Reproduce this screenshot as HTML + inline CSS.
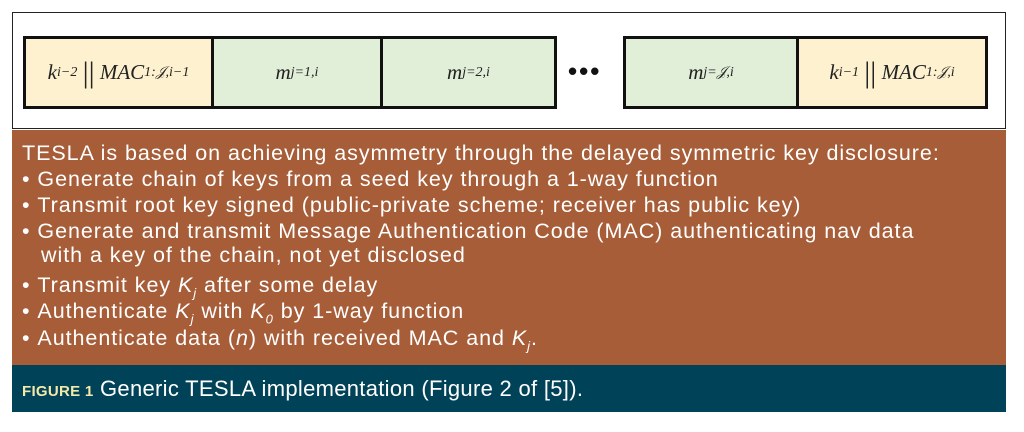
<!DOCTYPE html>
<html><head><style>
body{margin:0;width:1024px;height:432px;background:#fff;position:relative;overflow:hidden;font-family:"Liberation Sans",sans-serif}
.outer{position:absolute;left:12px;top:12px;width:992px;height:115px;border:1.5px solid #222;background:#fff}
.b{position:absolute;top:36px;height:67px;border:3px solid #111;box-sizing:content-box;font-family:"Liberation Serif",serif;font-style:italic;font-size:21px;color:#222;display:flex;align-items:center;justify-content:center}
.y{background:#fef1cf}.g{background:#e1efd9}
.b sub{font-size:14px;vertical-align:-5px}
.brown{position:absolute;left:12px;top:130px;width:994px;height:235px;background:#a65d38;color:#fff;font-size:21.5px;letter-spacing:0.95px;line-height:26px}
.brown div{position:absolute;left:10px;white-space:nowrap}
.brown sub{font-size:13px;line-height:0}
.navy{position:absolute;left:12px;top:365px;width:994px;height:47px;background:#004257;color:#fff;font-size:22px;letter-spacing:0.3px;line-height:47px}
</style></head><body>
<div class="outer"></div>
<div class="b y" style="left:23px;width:185px">k<sub>i−2</sub>&nbsp;<span style="font-style:normal;font-size:30px">||</span>&nbsp;MAC<sub>1:𝒥,i−1</sub></div>
<div class="b g" style="left:211px;width:166px">m<sub>j=1,i</sub></div>
<div class="b g" style="left:380px;width:171px">m<sub>j=2,i</sub></div>
<div style="position:absolute;left:568px;top:56px;font-size:26px;color:#111;font-weight:bold;letter-spacing:2px">•••</div>
<div class="b g" style="left:623px;width:170px">m<sub>j=𝒥,i</sub></div>
<div class="b y" style="left:796px;width:186px">k<sub>i−1</sub>&nbsp;<span style="font-style:normal;font-size:30px">||</span>&nbsp;MAC<sub>1:𝒥,i</sub></div>
<div class="brown">
<div style="top:10px">TESLA is based on achieving asymmetry through the delayed symmetric key disclosure:</div>
<div style="top:36px">•&nbsp;Generate chain of keys from a seed key through a 1-way function</div>
<div style="top:62px">•&nbsp;Transmit root key signed (public-private scheme; receiver has public key)</div>
<div style="top:88px">•&nbsp;Generate and transmit Message Authentication Code (MAC) authenticating nav data</div>
<div style="top:112px;left:29px">with a key of the chain, not yet disclosed</div>
<div style="top:142px">•&nbsp;Transmit key <i>K<sub>j</sub></i> after some delay</div>
<div style="top:168px">•&nbsp;Authenticate <i>K<sub>j</sub></i> with <i>K<sub>0</sub></i> by 1-way function</div>
<div style="top:195px">•&nbsp;Authenticate data (<i>n</i>) with received MAC and <i>K<sub>j</sub></i>.</div>
</div>
<div class="navy"><span style="margin-left:10px;color:#f3e9a8;font-weight:bold;font-size:15px">FIGURE 1</span>&nbsp;Generic TESLA implementation (Figure 2 of [5]).</div>
</body></html>
